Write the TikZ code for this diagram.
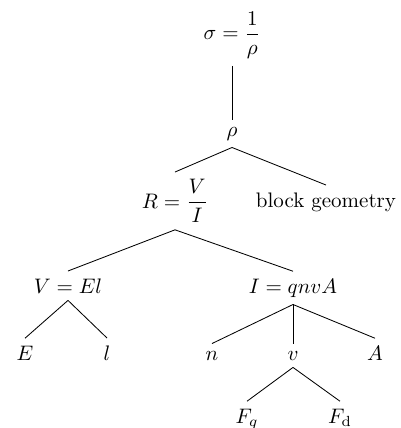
\documentclass[tikz,border=0pt]{standalone}
\begin{document}
\begin{tikzpicture}[x=0.47619pt,y=-0.47619pt,
  lbl/.style={anchor=base, inner sep=3.33pt},
  edge/.style={line width=0.4pt}]
\useasboundingbox (0,0) rectangle (401,428);
\node[lbl] (sig) at (232,40) {$\displaystyle\sigma=\frac{1}{\rho}$};
\node[lbl] (rho) at (232,136) {$\rho$};
\node[lbl] (R) at (175,208) {$\displaystyle R=\frac{V}{I}$};
\node[lbl] (geo) at (326,207) {block geometry};
\node[lbl] (V) at (68,293) {$V=El$};
\node[lbl] (I) at (293,293) {$I=qnvA$};
\node[lbl] (E) at (25,360) {$E$};
\node[lbl] (l) at (107,360) {$l$};
\node[lbl] (n) at (212,360) {$n$};
\node[lbl] (v) at (293,360) {$v$};
\node[lbl] (A) at (375,360) {$A$};
\node[lbl] (Fq) at (247,423) {$F_q$};
\node[lbl] (Fd) at (340,423) {$F_{\mathrm{d}}$};
\draw[edge] (sig.south) -- (rho.north);
\draw[edge] (rho.south) -- (R.north);
\draw[edge] (rho.south) -- (geo.north);
\draw[edge] (R.south) -- (V.north);
\draw[edge] (R.south) -- (I.north);
\draw[edge] (V.south) -- (E.north);
\draw[edge] (V.south) -- (l.north);
\draw[edge] (I.south) -- (n.north);
\draw[edge] (I.south) -- (v.north);
\draw[edge] (I.south) -- (A.north);
\draw[edge] (v.south) -- (Fq.north);
\draw[edge] (v.south) -- (Fd.north);
\end{tikzpicture}
\end{document}
